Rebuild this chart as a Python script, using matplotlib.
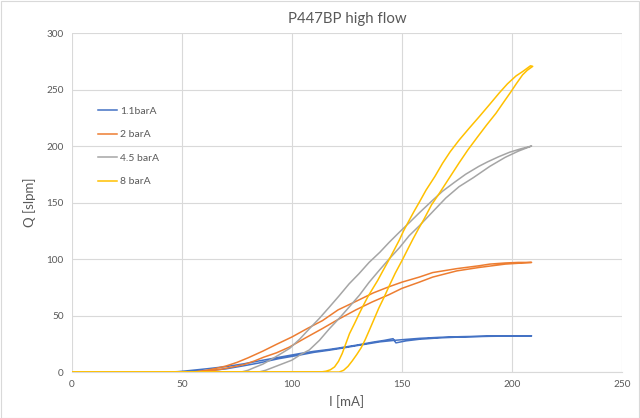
import matplotlib
matplotlib.use('Agg')
import matplotlib.pyplot as plt
from matplotlib.patches import Rectangle

plt.rcParams['font.family'] = ['Lato', 'DejaVu Sans']

labels = ['1.1barA', '2 barA', '4.5 barA', '8 barA']
colors = ['#4472C4', '#ED7D31', '#A5A5A5', '#FFC000']

# each series is one sweep: current up, then back down
i_blue = [0, 44, 48, 52, 57, 62, 70, 78, 85, 94, 103.5, 110, 117, 121.5, 130, 137, 142, 146,
          147.3, 152, 158, 167, 177, 190, 209,
          190, 177, 167, 158, 150, 146, 140, 130, 121.5, 117, 110, 103.5, 94, 85, 78, 70,
          62, 55, 48, 0]
q_blue = [0, 0, 0.3, 1, 2, 3, 4.8, 7.2, 9.8, 13, 16.3, 18.3, 20, 21.3, 24, 26.5, 28, 29.5,
          25.8, 27.6, 29, 30.2, 31, 31.6, 32,
          31.8, 31.3, 30.7, 29.8, 28.6, 27.9, 26.7, 23.5, 20.7, 19.3, 17.4, 15, 11.8, 8,
          5.5, 2.8, 1.2, 0.4, 0, 0]

i_orange = [0, 58, 63, 68, 73, 78, 83, 87, 93, 98.8, 106, 113.9, 121, 129.1, 136.5, 144.2,
            150, 157.9, 164, 175, 185, 197, 209,
            203, 197, 190, 185, 175, 164, 157.9, 150, 144.2, 137, 129.1, 121, 113.9, 107,
            100, 93, 86.8, 80, 75, 70, 65, 60, 55, 0]
q_orange = [0, 0, 1, 2.5, 4.5, 6.5, 9.8, 13, 17, 22, 30, 38.5, 46.5, 55, 62, 68.5,
            74, 79.5, 84, 89.5, 92.5, 95.5, 97,
            97, 96.5, 95.5, 94, 91.5, 88, 84, 79.5, 75.5, 70, 62.5, 55, 45.5, 38.5,
            31, 24.5, 18.5, 12.5, 8.5, 5.3, 3, 1.2, 0, 0]

i_gray = [0, 85, 88, 92, 96, 100, 104, 107.9, 112.5, 117, 121.5, 126, 130.7, 135.1, 139.5,
          144.2, 148.9, 153.3, 158, 164, 170, 176, 182.5, 190, 197, 203, 209,
          204, 199, 194, 189, 185, 179, 174, 168.5, 164, 158, 153.3, 149, 144.2, 140,
          135.1, 130.5, 126, 121.5, 117, 112.5, 107.9, 103.5, 99, 94.4, 90, 86.8, 83, 80,
          77, 0]
q_gray = [0, 0, 1.5, 4.5, 7.5, 10.5, 15.5, 19.5, 28, 38.2, 47.5, 57.4, 68, 79.4, 89.5,
          100, 110, 120.6, 129.5, 141.8, 154, 164, 172, 182, 190, 195.5, 200,
          197.5, 194.5, 190.5, 186, 182, 175, 168, 160, 152, 141, 132, 124, 114.7, 106,
          97, 87, 78, 67.5, 57.4, 47.5, 38.2, 29, 21, 15.5, 10.5, 7, 4, 1.5,
          0, 0]

i_yellow = [0, 121.5, 123.5, 125.5, 127.5, 129.5, 131.5, 133.3, 135.1, 137.2, 139.5, 142,
            144.2, 147, 150.3, 152.5, 155, 157.5, 160, 163.5, 167, 170, 173, 176, 180,
            184.4, 188.5, 192.8, 196, 199.6, 202, 204.9, 207, 209.5,
            208.5, 205, 201.9, 198, 194.3, 190, 185.2, 180.5, 176.1, 172, 168.5, 165, 161,
            158, 155.5, 153.4, 150.8, 148.9, 146.5, 144.2, 141.5, 139, 136.5, 134.5, 132.5,
            130.7, 128.5, 126.2, 124.5, 122.9, 121.2, 119.4, 117.5, 115.5, 113, 0]
q_yellow = [0, 0, 1.5, 5, 10, 15.5, 21.5, 28.5, 36.5, 46, 56.5, 66.5,
            76, 87.5, 99.5, 108, 117.5, 126.5, 135, 148, 158, 167, 176, 185, 196.5,
            208, 218.5, 229, 238, 248, 255, 263, 267, 270.5,
            271, 266, 262, 255, 247, 237, 226, 215.5, 205.4, 195, 184.7, 173, 161,
            150.5, 142, 134.5, 125, 117, 108, 99.5, 90, 81, 73, 66.5, 59,
            52, 43, 34, 25, 16.5, 9.5, 4.5, 2, 0.7, 0, 0]

x_data = [i_blue, i_orange, i_gray, i_yellow]
y_data = [q_blue, q_orange, q_gray, q_yellow]

fig = plt.figure(figsize=(6.4, 4.18), dpi=100)
ax = fig.add_axes([0.1125, 0.110, 0.859, 0.811])

for xs, ys, c, lab in zip(x_data, y_data, colors, labels):
    ax.plot(xs, ys, color=c, lw=1.1, label=lab)

ax.set_xlim(0, 250)
ax.set_ylim(0, 300)
ax.set_xticks(range(0, 251, 50))
ax.set_yticks(range(0, 301, 50))
ax.grid(color='#d9d9d9', lw=0.8)
ax.set_axisbelow(True)
for s in ['top', 'right', 'left']:
    ax.spines[s].set_visible(False)
ax.spines['bottom'].set_color('#d9d9d9')
ax.tick_params(length=0, labelsize=7.2, colors='#595959', pad=6)

ax.set_title('P447BP high flow', fontsize=10.8, color='#595959', pad=7)
ax.set_xlabel('I [mA]', fontsize=9.5, color='#595959', labelpad=4)
ax.set_ylabel('Q [slpm]', fontsize=9.5, color='#595959', labelpad=7)

leg = ax.legend(loc='upper left', bbox_to_anchor=(0.03, 0.81), frameon=False,
                fontsize=7.5, handlelength=1.8, handletextpad=0.3, labelspacing=1.35)
for t in leg.get_texts():
    t.set_color('#595959')

fig.patches.append(Rectangle((0.001, 0.001), 0.997, 0.997, transform=fig.transFigure,
                             fill=False, edgecolor='#d9d9d9', lw=0.8))

fig.savefig('out.png', dpi=100)
